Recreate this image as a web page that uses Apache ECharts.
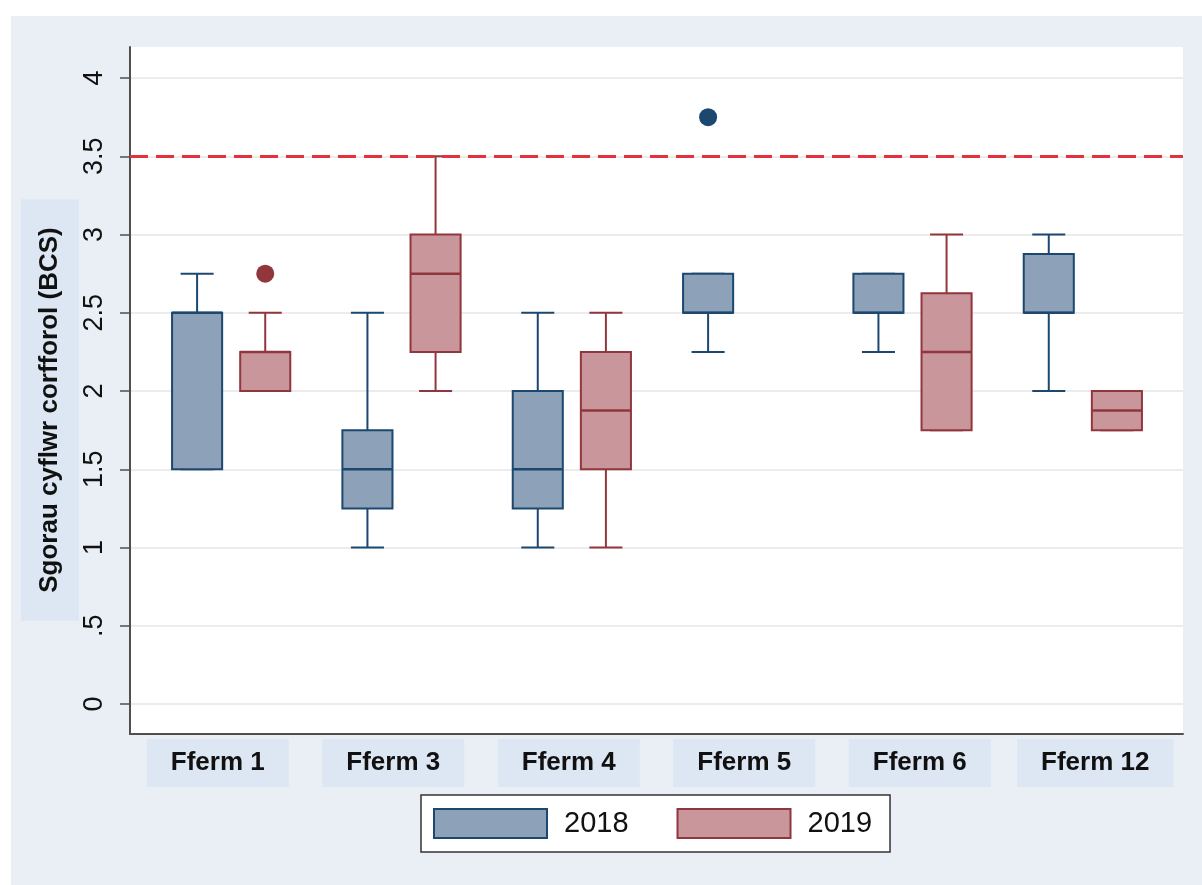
<!DOCTYPE html>
<html>
<head>
<meta charset="utf-8">
<script src="https://cdn.jsdelivr.net/npm/echarts@6/dist/echarts.min.js"></script>
<style>
  html, body { margin: 0; padding: 0; background: #ffffff; }
  #chart { width: 1202px; height: 885px; }
</style>
</head>
<body>
<div id="chart"></div>
<script>
// Farms on the category axis
const farms = ['Fferm 1', 'Fferm 3', 'Fferm 4', 'Fferm 5', 'Fferm 6', 'Fferm 12'];
// Stata-style tick labels for the score axis (0 to 4 in steps of 0.5)
const yTickLabels = ['0', '.5', '1', '1.5', '2', '2.5', '3', '3.5', '4'];
// Each row: [farm index, lower whisker, Q1, median, Q3, upper whisker]
const box2018 = [
  [0, 1.5, 1.5, 2.5, 2.5, 2.75],
  [1, 1.0, 1.25, 1.5, 1.75, 2.5],
  [2, 1.0, 1.25, 1.5, 2.0, 2.5],
  [3, 2.25, 2.5, 2.5, 2.75, 2.75],
  [4, 2.25, 2.5, 2.5, 2.75, 2.75],
  [5, 2.0, 2.5, 2.5, 2.875, 3.0]
];
const box2019 = [
  [0, 2.0, 2.0, 2.25, 2.25, 2.5],
  [1, 2.0, 2.25, 2.75, 3.0, 3.5],
  [2, 1.0, 1.5, 1.875, 2.25, 2.5],
  [4, 1.75, 1.75, 2.25, 2.625, 3.0],
  [5, 1.75, 1.75, 1.875, 2.0, 2.0]
];
// Outside values: [farm index, score]
const outliers2018 = [[3, 3.75]];
const outliers2019 = [[0, 2.75]];
// Reference score drawn as a dashed line
const threshold = 3.5;

const C18 = { fill: '#8da1b8', stroke: '#1c4870' };
const C19 = { fill: '#c8969b', stroke: '#92363d' };
const FONT = '"Liberation Sans", Arial, Helvetica, sans-serif';

// Box-and-whisker glyph, shifted left/right inside the farm's band
function boxRenderer(shift, col) {
  return function (params, api) {
    const i = api.value(0);
    const band = api.size([1, 0])[0];
    const cx = api.coord([i, 0])[0] + shift * band;
    const y = k => api.coord([i, api.value(k)])[1];
    const yLo = y(1), yQ1 = y(2), yMed = y(3), yQ3 = y(4), yHi = y(5);
    const hw = band * 0.147;
    const cw = band * 0.097;
    const ls = { stroke: col.stroke, lineWidth: 2 };
    return {
      type: 'group',
      children: [
        { type: 'line', shape: { x1: cx, y1: yHi, x2: cx, y2: yQ3 }, style: ls },
        { type: 'line', shape: { x1: cx, y1: yQ1, x2: cx, y2: yLo }, style: ls },
        { type: 'line', shape: { x1: cx - cw, y1: yHi, x2: cx + cw, y2: yHi }, style: ls },
        { type: 'line', shape: { x1: cx - cw, y1: yLo, x2: cx + cw, y2: yLo }, style: ls },
        { type: 'rect', shape: { x: cx - hw, y: yQ3, width: 2 * hw, height: yQ1 - yQ3 },
          style: { fill: col.fill, stroke: col.stroke, lineWidth: 2 } },
        { type: 'line', shape: { x1: cx - hw, y1: yMed, x2: cx + hw, y2: yMed },
          style: { stroke: col.stroke, lineWidth: 2.5 } }
      ]
    };
  };
}

function outlierRenderer(shift, col) {
  return function (params, api) {
    const band = api.size([1, 0])[0];
    const p = api.coord([api.value(0), api.value(1)]);
    return { type: 'circle', shape: { cx: p[0] + shift * band, cy: p[1], r: 9 },
             style: { fill: col.stroke } };
  };
}

const chart = echarts.init(document.getElementById('chart'));
chart.setOption({
  backgroundColor: '#eaeff5',
  animation: false,
  graphic: [
    { type: 'rect', shape: { x: 0, y: 0, width: 11, height: 885 }, style: { fill: '#ffffff' } },
    { type: 'rect', shape: { x: 0, y: 0, width: 1202, height: 16 }, style: { fill: '#ffffff' } },
    {
      type: 'text', x: 50, y: 410, rotation: Math.PI / 2,
      style: {
        text: 'Sgorau cyflwr corfforol (BCS)',
        font: 'bold 26px ' + FONT, fill: '#111111',
        align: 'center', verticalAlign: 'middle',
        backgroundColor: '#dce7f3', padding: [16, 28, 16, 28]
      }
    }
  ],
  legend: {
    left: 421, top: 795, orient: 'horizontal',
    padding: [13, 18, 13, 12], itemGap: 48,
    itemWidth: 113, itemHeight: 29,
    backgroundColor: '#ffffff', borderColor: '#333333', borderWidth: 1.5,
    textStyle: { fontFamily: FONT, fontSize: 29, color: '#111111', padding: [0, 0, 0, 12] },
    data: [
      { name: '2018', icon: 'rect', itemStyle: { color: C18.fill, borderColor: C18.stroke, borderWidth: 2 } },
      { name: '2019', icon: 'rect', itemStyle: { color: C19.fill, borderColor: C19.stroke, borderWidth: 2 } }
    ]
  },
  grid: [
    // plot frame: white area with the two axis lines
    { left: 130, right: 19, top: 47, bottom: 151, show: true, backgroundColor: '#ffffff', borderWidth: 0 },
    // score scale and farm labels: ticks, labels, grid lines, reference line
    { left: 130, right: 19, top: 78, bottom: 181 },
    // boxes
    { left: 146, right: 34, top: 78, bottom: 181 }
  ],
  xAxis: [
    { gridIndex: 0, type: 'value', min: 0, max: 1,
      axisLine: { show: true, lineStyle: { color: '#4f4f4f', width: 2 } },
      axisTick: { show: false }, axisLabel: { show: false }, splitLine: { show: false } },
    { gridIndex: 1, type: 'category', data: farms,
      axisLine: { show: false }, axisTick: { show: false }, splitLine: { show: false },
      axisLabel: {
        interval: 0, margin: 35,
        fontFamily: FONT, fontSize: 26, fontWeight: 'bold', color: '#111111',
        lineHeight: 26, backgroundColor: '#dce7f3', padding: [11, 24, 11, 24]
      } },
    { gridIndex: 2, type: 'category', data: farms, show: false }
  ],
  yAxis: [
    { gridIndex: 0, type: 'value', min: 0, max: 1,
      axisLine: { show: true, lineStyle: { color: '#4f4f4f', width: 2 } },
      axisTick: { show: false }, axisLabel: { show: false }, splitLine: { show: false } },
    { gridIndex: 1, type: 'value', min: 0, max: 4, interval: 0.5,
      axisLine: { show: false },
      axisTick: { show: true, length: 10, lineStyle: { color: '#4f4f4f', width: 1.5 } },
      axisLabel: {
        rotate: 90, margin: 22,
        fontFamily: FONT, fontSize: 27, color: '#111111',
        formatter: v => yTickLabels[Math.round(v * 2)]
      },
      splitLine: { show: true, lineStyle: { color: '#ececec', width: 2 } } },
    { gridIndex: 2, type: 'value', min: 0, max: 4, show: false }
  ],
  series: [
    {
      name: 'threshold', type: 'line', xAxisIndex: 1, yAxisIndex: 1, data: [],
      markLine: {
        silent: true, symbol: 'none', label: { show: false },
        lineStyle: { color: '#e5313d', type: [18, 8], width: 3 },
        data: [{ yAxis: threshold }]
      }
    },
    {
      name: '2018', type: 'custom', xAxisIndex: 2, yAxisIndex: 2,
      itemStyle: { color: C18.fill },
      encode: { x: 0, y: [1, 2, 3, 4, 5] },
      renderItem: boxRenderer(-0.2, C18), data: box2018
    },
    {
      name: '2019', type: 'custom', xAxisIndex: 2, yAxisIndex: 2,
      itemStyle: { color: C19.fill },
      encode: { x: 0, y: [1, 2, 3, 4, 5] },
      renderItem: boxRenderer(0.2, C19), data: box2019
    },
    {
      name: '2018', type: 'custom', xAxisIndex: 2, yAxisIndex: 2,
      encode: { x: 0, y: 1 },
      renderItem: outlierRenderer(-0.2, C18), data: outliers2018
    },
    {
      name: '2019', type: 'custom', xAxisIndex: 2, yAxisIndex: 2,
      encode: { x: 0, y: 1 },
      renderItem: outlierRenderer(0.2, C19), data: outliers2019
    }
  ]
});
</script>
</body>
</html>
